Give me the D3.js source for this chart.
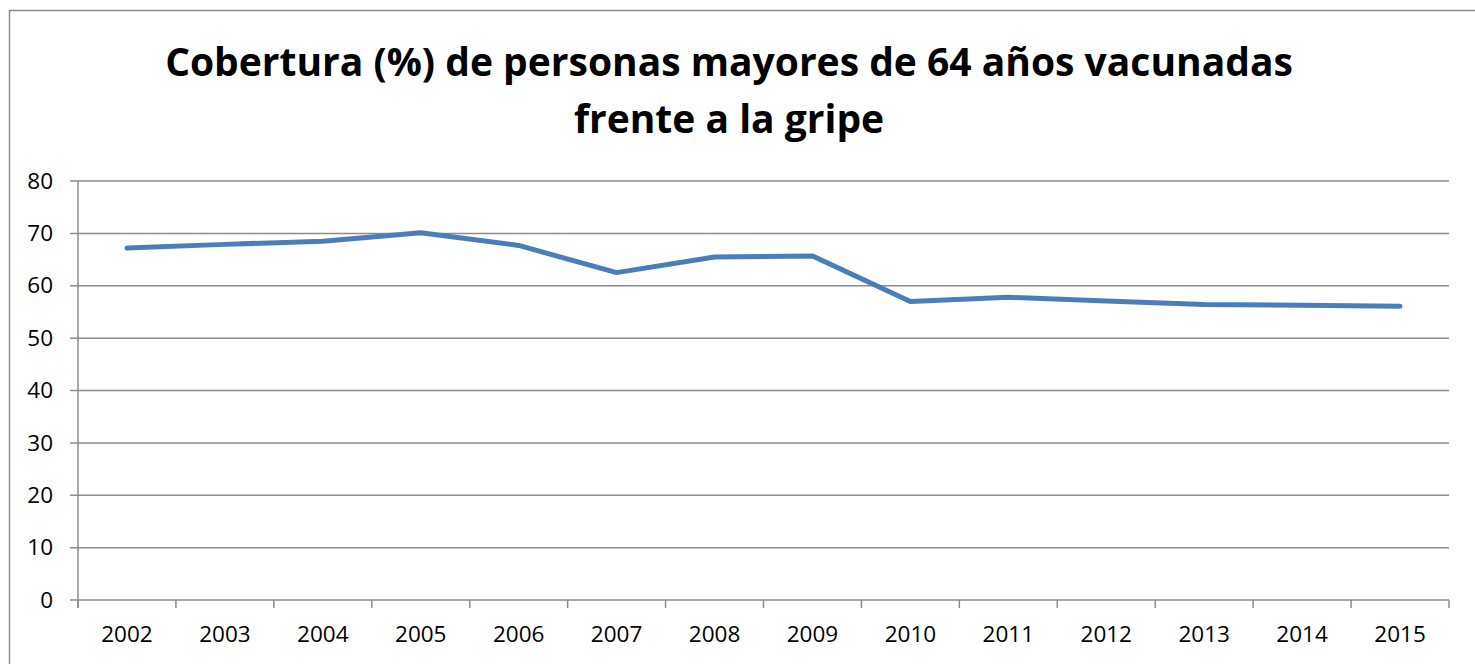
<!DOCTYPE html>
<html>
<head>
<meta charset="utf-8">
<script src="https://cdn.jsdelivr.net/npm/d3@7"></script>
<style>
  body { margin: 0; background: #fff; }
  text { font-family: "Open Sans", "Liberation Sans", sans-serif; }
</style>
</head>
<body>
<svg width="1475" height="664"></svg>
<script>
const svg_width = 1475;
const svg_height = 664;

// data
const years = ["2002", "2003", "2004", "2005", "2006", "2007", "2008",
  "2009", "2010", "2011", "2012", "2013", "2014", "2015"];
const coverage = [67.2, 67.9, 68.5, 70.1, 67.7, 62.5, 65.5,
  65.7, 57.0, 57.8, 57.1, 56.4, 56.3, 56.1];
const y_ticks = [0, 10, 20, 30, 40, 50, 60, 70, 80];
const title_lines = ["Cobertura (%) de personas mayores de 64 años vacunadas", "frente a la gripe"];

const margin = { left: 78, right: 26, top: 181, bottom: 64 };
const plot_w = svg_width - margin.left - margin.right;
const plot_h = svg_height - margin.top - margin.bottom;

var svg = d3.select("svg");

// outer chart frame, runs off the right/bottom like in the picture
svg.append("rect")
  .attr("x", 9.5).attr("y", 10.5)
  .attr("width", 1475).attr("height", 670)
  .attr("fill", "none")
  .attr("stroke", "#8c8c8c")
  .attr("stroke-width", 1.5);

svg.append("g").selectAll("text").data(title_lines).enter()
  .append("text")
  .attr("x", 729)
  .attr("y", (d, i) => 76 + i * 57)
  .attr("text-anchor", "middle")
  .attr("font-size", "39px")
  .attr("font-weight", "bold")
  .attr("fill", "#000")
  .text(d => d);

var x = d3.scaleBand().domain(years).range([0, plot_w]).padding(0);
var y = d3.scaleLinear().domain([0, 80]).range([plot_h, 0]);

var g = svg.append("g").attr("transform", `translate(${margin.left},${margin.top})`);

// gridlines, they stick out a little to the left of the axis as tick stubs
g.append("g").selectAll("line").data(y_ticks).enter()
  .append("line")
  .attr("x1", -8).attr("x2", plot_w)
  .attr("y1", d => y(d)).attr("y2", d => y(d))
  .attr("stroke", "#8c8c8c")
  .attr("stroke-width", 1.5);

// y axis line
g.append("line")
  .attr("x1", 0).attr("x2", 0)
  .attr("y1", 0).attr("y2", plot_h + 8)
  .attr("stroke", "#8c8c8c").attr("stroke-width", 1.5);

// y labels
var y_axis = d3.axisLeft(y).tickValues(y_ticks).tickSize(0).tickPadding(25);
g.append("g").call(y_axis)
  .call(a => a.select(".domain").remove())
  .selectAll("text")
  .attr("font-size", "22.5px")
  .attr("fill", "#000")
  .style("font-family", "'Open Sans', sans-serif");

// x ticks between categories
var boundaries = years.map(d => x(d)).concat([plot_w]);
g.append("g").selectAll("line").data(boundaries).enter()
  .append("line")
  .attr("x1", d => d).attr("x2", d => d)
  .attr("y1", plot_h).attr("y2", plot_h + 8)
  .attr("stroke", "#8c8c8c").attr("stroke-width", 1.5);

var x_axis = d3.axisBottom(x).tickSize(0).tickPadding(26);
g.append("g").attr("transform", `translate(0,${plot_h})`).call(x_axis)
  .call(a => a.select(".domain").remove())
  .selectAll("text")
  .attr("font-size", "22.5px")
  .attr("fill", "#000")
  .style("font-family", "'Open Sans', sans-serif");

var line = d3.line()
  .x((d, i) => x(years[i]) + x.bandwidth() / 2)
  .y(d => y(d));

g.append("path")
  .datum(coverage)
  .attr("d", line)
  .attr("fill", "none")
  .attr("stroke", "#4a7ebb")
  .attr("stroke-width", 5)
  .attr("stroke-linecap", "round")
  .attr("stroke-linejoin", "round");
</script>
</body>
</html>
